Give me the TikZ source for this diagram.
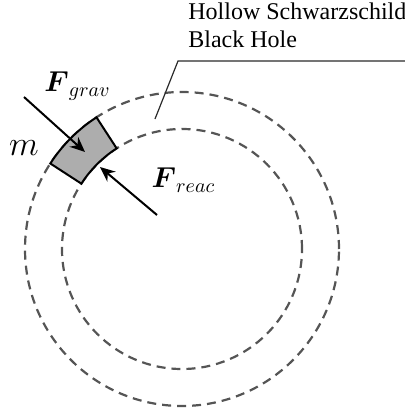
\documentclass[tikz,border=0pt]{standalone}
\usepackage{amsmath}
\usepackage{fontspec}
\setmainfont{Liberation Serif}
\usetikzlibrary{arrows.meta}
\definecolor{DashGrey}{HTML}{555555}
\definecolor{MassFill}{HTML}{ADADAD}
\definecolor{LeaderInk}{HTML}{2A2A2A}
\tikzset{shell/.style={DashGrey,line width=1.1pt,dash pattern=on 4.5pt off 3pt},force/.style={->,line width=1pt}}

\begin{document}
\begin{tikzpicture}[x=.5pt,y=.5pt,>={Stealth[length=7.5pt,width=6.5pt]},every node/.style={inner sep=0pt}]
\useasboundingbox (-182,-159) rectangle (222,249);
\draw[shell] (0,0) circle[radius=157]; \draw[shell] (0,0) circle[radius=120];
\draw[line width=1pt,fill=MassFill] (123:157) arc[start angle=123,end angle=147,radius=157] -- (147:120) arc[start angle=147,end angle=123,radius=120] -- cycle;
\node[anchor=north west,align=left,font=\fontsize{12}{14}\selectfont] (bhlabel) at (6,247) {Hollow Schwarzschild\\Black Hole};
\coordinate (leadfoot) at (-27,130); \coordinate (leadknee) at (-4,188);
\draw[LeaderInk,line width=.6pt] (leadfoot) -- (leadknee) -- (leadknee -| bhlabel.east);
\coordinate (gravtail) at (-158,152); \coordinate (gravtip) at (-97,97); \draw[force] (gravtail) -- (gravtip);
\coordinate (reactail) at (-25,34); \coordinate (reactip) at (-82,82); \draw[force] (reactail) -- (reactip);
\node[font=\fontsize{14.5}{17}\selectfont] (fgrav) at (-104.5,163) {$\boldsymbol{F}_{grav}$};
\node[font=\fontsize{14.5}{17}\selectfont] (freac) at (1.5,69) {$\boldsymbol{F}_{reac}$};
\node[font=\fontsize{16}{18}\selectfont] (mass) at (-158,101) {$m$};
\end{tikzpicture}
\end{document}
